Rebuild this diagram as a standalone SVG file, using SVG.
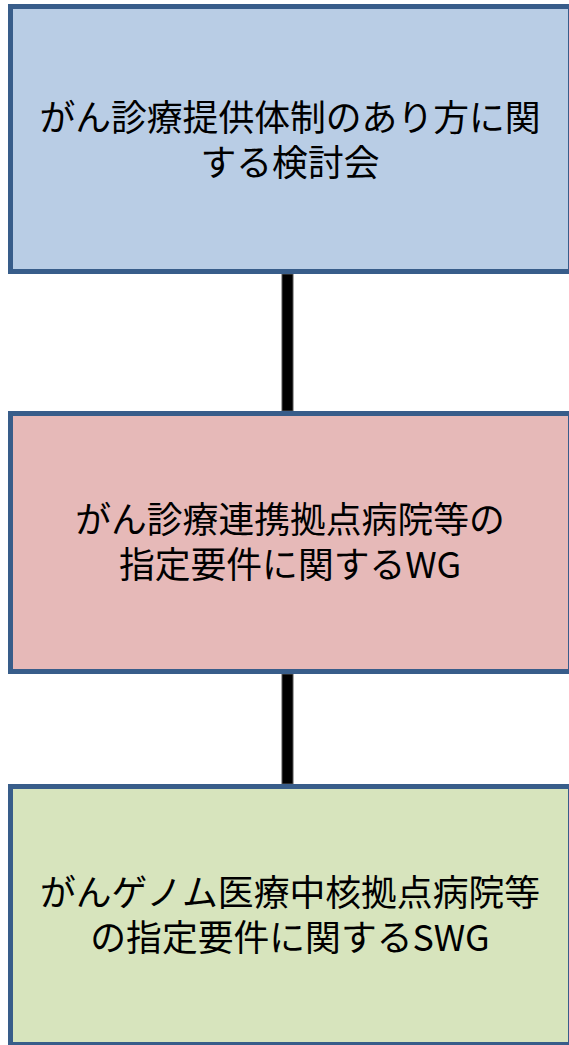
<svg xmlns="http://www.w3.org/2000/svg" width="569" height="1045" viewBox="0 0 569 1045">
<style>
.box{stroke:#385D8A;stroke-width:5}
.lbl{font-family:"Noto Sans CJK JP","Noto Sans",sans-serif;font-size:35.8px;fill:#000;text-anchor:middle}
.conn{fill:#000;stroke:#555;stroke-width:1}
</style>
<rect width="569" height="1045" fill="#fff"/>
<g id="connectors">
<rect class="conn" x="282" y="274" width="11" height="137"/>
<rect class="conn" x="282" y="674" width="11" height="110"/>
</g>
<g id="node1">
<rect class="box" x="10.5" y="6.5" width="560" height="265" fill="#B9CDE5"/>
<text class="lbl"><tspan x="290" y="130.5">がん診療提供体制のあり方に関</tspan><tspan x="290" y="176">する検討会</tspan></text>
</g>
<g id="node2">
<rect class="box" x="10.5" y="413.5" width="560" height="258" fill="#E6B9B8"/>
<text class="lbl"><tspan x="290" y="532.5">がん診療連携拠点病院等の</tspan><tspan x="290" y="577.5">指定要件に関するWG</tspan></text>
</g>
<g id="node3">
<rect class="box" x="10.5" y="786.5" width="560" height="258" fill="#D7E4BD"/>
<text class="lbl"><tspan x="290" y="905.5">がんゲノム医療中核拠点病院等</tspan><tspan x="290" y="950.5">の指定要件に関するSWG</tspan></text>
</g>
</svg>
